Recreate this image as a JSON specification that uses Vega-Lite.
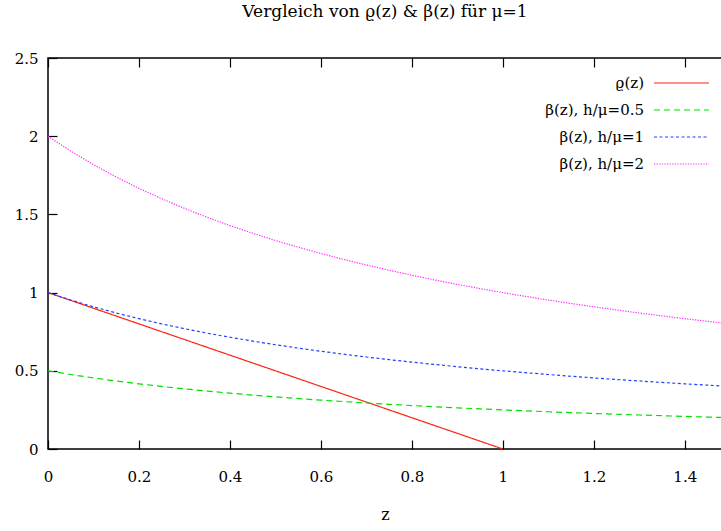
{
  "$schema": "https://vega.github.io/schema/vega-lite/v6.json",
  "width": 674,
  "height": 391,
  "autosize": "none",
  "padding": {"left": 48, "top": 58, "right": 0, "bottom": 82},
  "background": "white",
  "config": {
    "view": {"stroke": "#000", "strokeWidth": 1.5}
  },
  "title": {"text": "Vergleich von ϱ(z) & β(z) für μ=1", "font": "DejaVu Serif", "fontSize": 17, "fontWeight": "normal", "color": "#000", "anchor": "middle", "offset": 30},
  "data": {
    "values": [
      {"z": 0, "rho": 1, "b05": 0.5, "b1": 1, "b2": 2},
      {"z": 0.05, "rho": 0.95, "b05": 0.4762, "b1": 0.9524, "b2": 1.9048},
      {"z": 0.1, "rho": 0.9, "b05": 0.4545, "b1": 0.9091, "b2": 1.8182},
      {"z": 0.15, "rho": 0.85, "b05": 0.4348, "b1": 0.8696, "b2": 1.7391},
      {"z": 0.2, "rho": 0.8, "b05": 0.4167, "b1": 0.8333, "b2": 1.6667},
      {"z": 0.25, "rho": 0.75, "b05": 0.4, "b1": 0.8, "b2": 1.6},
      {"z": 0.3, "rho": 0.7, "b05": 0.3846, "b1": 0.7692, "b2": 1.5385},
      {"z": 0.35, "rho": 0.65, "b05": 0.3704, "b1": 0.7407, "b2": 1.4815},
      {"z": 0.4, "rho": 0.6, "b05": 0.3571, "b1": 0.7143, "b2": 1.4286},
      {"z": 0.45, "rho": 0.55, "b05": 0.3448, "b1": 0.6897, "b2": 1.3793},
      {"z": 0.5, "rho": 0.5, "b05": 0.3333, "b1": 0.6667, "b2": 1.3333},
      {"z": 0.55, "rho": 0.45, "b05": 0.3226, "b1": 0.6452, "b2": 1.2903},
      {"z": 0.6, "rho": 0.4, "b05": 0.3125, "b1": 0.625, "b2": 1.25},
      {"z": 0.65, "rho": 0.35, "b05": 0.303, "b1": 0.6061, "b2": 1.2121},
      {"z": 0.7, "rho": 0.3, "b05": 0.2941, "b1": 0.5882, "b2": 1.1765},
      {"z": 0.75, "rho": 0.25, "b05": 0.2857, "b1": 0.5714, "b2": 1.1429},
      {"z": 0.8, "rho": 0.2, "b05": 0.2778, "b1": 0.5556, "b2": 1.1111},
      {"z": 0.85, "rho": 0.15, "b05": 0.2703, "b1": 0.5405, "b2": 1.0811},
      {"z": 0.9, "rho": 0.1, "b05": 0.2632, "b1": 0.5263, "b2": 1.0526},
      {"z": 0.95, "rho": 0.05, "b05": 0.2564, "b1": 0.5128, "b2": 1.0256},
      {"z": 1.0, "rho": 0, "b05": 0.25, "b1": 0.5, "b2": 1.0},
      {"z": 1.05, "b05": 0.2439, "b1": 0.4878, "b2": 0.9756},
      {"z": 1.1, "b05": 0.2381, "b1": 0.4762, "b2": 0.9524},
      {"z": 1.15, "b05": 0.2326, "b1": 0.4651, "b2": 0.9302},
      {"z": 1.2, "b05": 0.2273, "b1": 0.4545, "b2": 0.9091},
      {"z": 1.25, "b05": 0.2222, "b1": 0.4444, "b2": 0.8889},
      {"z": 1.3, "b05": 0.2174, "b1": 0.4348, "b2": 0.8696},
      {"z": 1.35, "b05": 0.2128, "b1": 0.4255, "b2": 0.8511},
      {"z": 1.4, "b05": 0.2083, "b1": 0.4167, "b2": 0.8333},
      {"z": 1.45, "b05": 0.2041, "b1": 0.4082, "b2": 0.8163},
      {"z": 1.5, "b05": 0.2, "b1": 0.4, "b2": 0.8}
    ]
  },
  "transform": [
    {"fold": ["rho", "b05", "b1", "b2"], "as": ["series", "value"]},
    {"filter": "isValid(datum.value)"}
  ],
  "layer": [
    {
      "mark": {"type": "line", "clip": true, "strokeWidth": 1.2},
      "encoding": {
        "x": {"field": "z", "type": "quantitative", "scale": {"domain": [0, 1.4818], "nice": false, "zero": false},
              "axis": {"values": [0, 0.2, 0.4, 0.6, 0.8, 1, 1.2, 1.4], "format": "~g", "grid": true, "gridColor": "black", "gridOpacity": 1, "gridWidth": 1.2, "gridDash": [9, 2000], "domain": false, "ticks": false, "labelFlush": false, "labelFont": "DejaVu Serif", "labelFontSize": 15, "labelColor": "#000", "labelPadding": 20, "title": "z", "titleFont": "DejaVu Serif", "titleFontSize": 16, "titleFontWeight": "normal", "titleColor": "#000", "titlePadding": 22}},
        "y": {"field": "value", "type": "quantitative", "scale": {"domain": [0, 2.5], "nice": false},
              "axis": {"values": [0, 0.5, 1, 1.5, 2, 2.5], "format": "~g", "grid": true, "gridColor": "black", "gridOpacity": 1, "gridWidth": 1.2, "gridDash": [9, 2000], "domain": false, "ticks": false, "labelFlush": false, "labelFont": "DejaVu Serif", "labelFontSize": 15, "labelColor": "#000", "labelPadding": 10, "title": null}},
        "color": {"field": "series", "type": "nominal",
                  "scale": {"domain": ["rho", "b05", "b1", "b2"], "range": ["#ff2010", "#00e000", "#2040ff", "#ff30ff"]},
                  "legend": {"title": null, "orient": "none", "legendX": 622.5, "legendY": 14, "symbolType": "M-2.75,0H2.75", "symbolSize": 400, "symbolStrokeWidth": 1.2, "rowPadding": 8, "labelAlign": "right", "labelOffset": -48.5, "labelFont": "DejaVu Serif", "labelFontSize": 15, "labelColor": "#000", "labelLimit": 300, "padding": 0,
                             "labelExpr": "datum.value == 'rho' ? 'ϱ(z)' : datum.value == 'b05' ? 'β(z), h/μ=0.5' : datum.value == 'b1' ? 'β(z), h/μ=1' : 'β(z), h/μ=2'"}},
        "strokeDash": {"field": "series", "type": "nominal",
                  "scale": {"domain": ["rho", "b05", "b1", "b2"], "range": [[1, 0], [6, 4], [3, 2.5], [1.3, 1.3]]},
                  "legend": null}
      }
    },
    {
      "mark": {"type": "point", "opacity": 0},
      "encoding": {
        "x": {"field": "z", "type": "quantitative", "scale": {"domain": [0, 1.4818], "nice": false, "zero": false},
              "axis": {"orient": "top", "values": [0, 0.2, 0.4, 0.6, 0.8, 1, 1.2, 1.4], "grid": true, "gridColor": "black", "gridOpacity": 1, "gridWidth": 1.2, "gridDash": [9, 2000], "domain": false, "ticks": false, "labels": false, "title": null}},
        "y": {"field": "value", "type": "quantitative", "scale": {"domain": [0, 2.5], "nice": false}, "axis": null}
      }
    }
  ],
  "resolve": {"axis": {"x": "independent", "y": "independent"}}
}
